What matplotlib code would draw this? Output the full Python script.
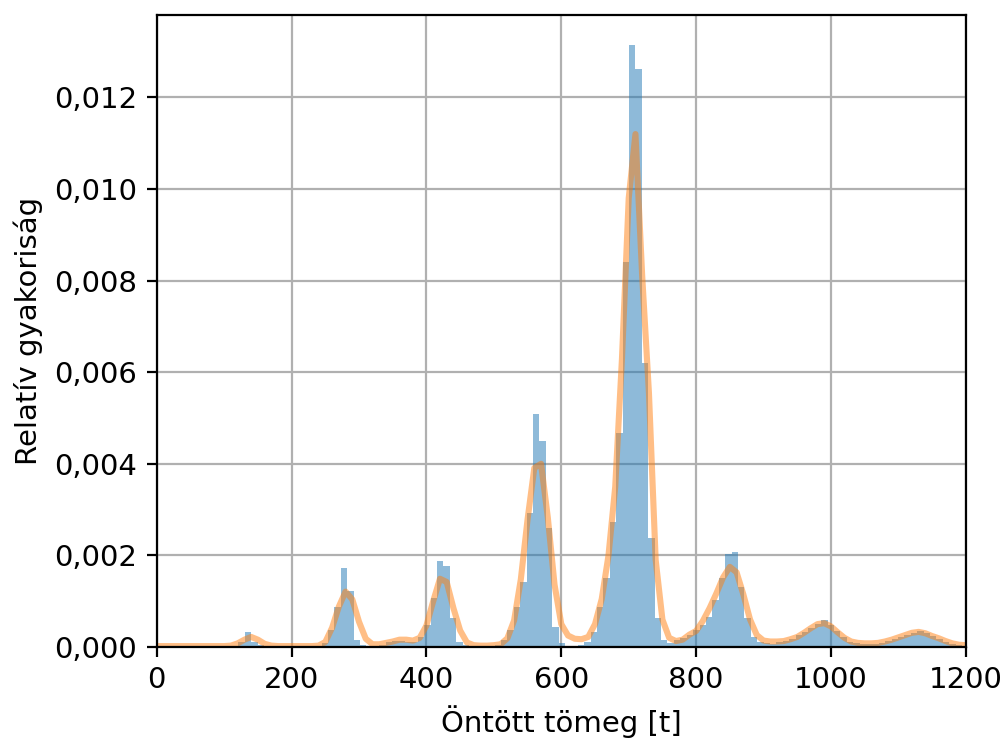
import numpy as np
import matplotlib
matplotlib.use("Agg")
import matplotlib.pyplot as plt
from matplotlib.ticker import FuncFormatter

# histogram: bins of 9.5 t starting at 121 t, heights in units of 1e-3
bin_start = 121.0
bin_width = 9.5
hist_heights = [
    0.10, 0.32, 0.12, 0.05, 0.00, 0.00, 0.00, 0.00, 0.00, 0.00,   # 121 - 216
    0.00, 0.00, 0.00, 0.08, 0.37, 0.88, 1.72, 1.23, 0.15, 0.05,   # 216 - 311
    0.02, 0.03, 0.05, 0.12, 0.14, 0.14, 0.12, 0.10, 0.21, 0.48,   # 311 - 406
    1.06, 1.88, 1.77, 0.63, 0.12, 0.04, 0.02, 0.02, 0.03, 0.03,   # 406 - 501
    0.05, 0.15, 0.37, 0.88, 1.43, 2.92, 5.08, 4.50, 2.60, 0.44,   # 501 - 596
    0.09, 0.03, 0.02, 0.05, 0.12, 0.33, 0.88, 1.50, 2.73, 4.68,   # 596 - 691
    8.41, 13.14, 12.63, 6.21, 2.39, 0.63, 0.15, 0.08, 0.15, 0.19, # 691 - 786
    0.26, 0.37, 0.48, 0.66, 1.03, 1.50, 2.03, 2.07, 1.32, 0.63,   # 786 - 881
    0.22, 0.10, 0.08, 0.07, 0.10, 0.13, 0.18, 0.26, 0.33, 0.42,   # 881 - 976
    0.50, 0.60, 0.48, 0.36, 0.22, 0.12, 0.08, 0.06, 0.06, 0.07,   # 976 - 1071
    0.09, 0.13, 0.18, 0.22, 0.27, 0.30, 0.36, 0.30, 0.24, 0.18,   # 1071 - 1166
    0.12, 0.07, 0.04,                                             # 1166 - 1194.5
]

# smoothed density curve read every 10 t, units of 1e-3
kde_x = list(range(0, 1201, 10))
kde_y = [
    0.02, 0.02, 0.02, 0.02, 0.02, 0.02, 0.02, 0.02, 0.02, 0.02,   # 0 - 90
    0.02, 0.03, 0.08, 0.16, 0.22, 0.16, 0.07, 0.03, 0.02, 0.02,   # 100 - 190
    0.02, 0.02, 0.02, 0.02, 0.03, 0.11, 0.42, 0.88, 1.21, 1.04,   # 200 - 290
    0.55, 0.18, 0.06, 0.06, 0.09, 0.12, 0.16, 0.16, 0.14, 0.20,   # 300 - 390
    0.47, 1.00, 1.49, 1.42, 0.85, 0.36, 0.10, 0.04, 0.03, 0.03,   # 400 - 490
    0.04, 0.06, 0.19, 0.58, 1.48, 2.79, 3.91, 4.00, 2.83, 1.36,   # 500 - 590
    0.50, 0.25, 0.18, 0.17, 0.22, 0.50, 1.05, 2.00, 3.50, 6.30,   # 600 - 690
    9.80, 11.20, 8.10, 5.55, 1.90, 0.60, 0.20, 0.13, 0.16, 0.27,  # 700 - 790
    0.35, 0.57, 0.85, 1.17, 1.52, 1.75, 1.63, 1.15, 0.60, 0.26,   # 800 - 890
    0.14, 0.12, 0.12, 0.13, 0.17, 0.22, 0.31, 0.41, 0.50, 0.52,   # 900 - 990
    0.45, 0.32, 0.20, 0.12, 0.09, 0.08, 0.08, 0.09, 0.12, 0.16,   # 1000 - 1090
    0.21, 0.26, 0.31, 0.33, 0.30, 0.24, 0.19, 0.13, 0.08, 0.05,   # 1100 - 1190
    0.04,                                                         # 1200
]

x_ticks = [0, 200, 400, 600, 800, 1000, 1200]
y_ticks = [0.000, 0.002, 0.004, 0.006, 0.008, 0.010, 0.012]

heights = np.array(hist_heights) * 1e-3
edges = bin_start + bin_width * np.arange(len(heights) + 1)
centers = (edges[:-1] + edges[1:]) / 2

plt.rcParams["font.size"] = 10.5

fig = plt.figure(figsize=(5.025, 3.69), dpi=200)
ax = fig.add_axes([0.156, 0.1233, 0.805, 0.8564])

ax.hist(centers, bins=edges, weights=heights, alpha=0.5)
ax.plot(kde_x, np.array(kde_y) * 1e-3, color="C1", alpha=0.5, lw=2.2)

ax.set_xlim(0, 1200)
ax.set_ylim(0, 0.0138)
ax.set_xticks(x_ticks)
ax.set_yticks(y_ticks)
ax.yaxis.set_major_formatter(FuncFormatter(lambda v, p: f"{v:.3f}".replace(".", ",")))
ax.grid(True)
ax.set_axisbelow(True)
ax.set_xlabel("Öntött tömeg [t]")
ax.set_ylabel("Relatív gyakoriság")

fig.savefig("out.png", dpi=200)
